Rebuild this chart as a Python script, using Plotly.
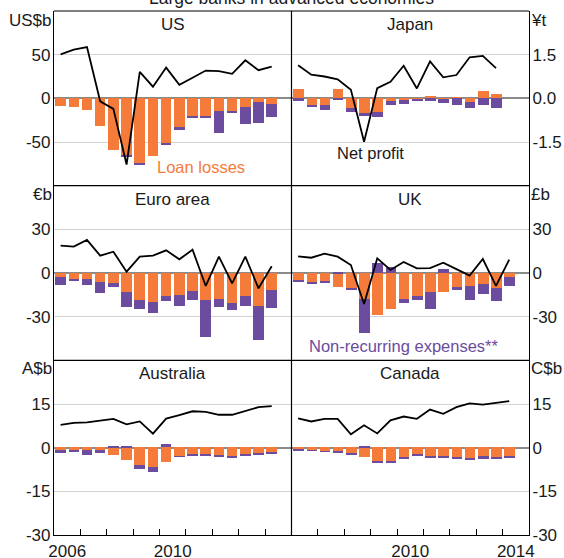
import plotly.graph_objects as go

# ---------------- data ----------------
periods = ["2006H1", "2006H2", "2007H1", "2007H2", "2008H1", "2008H2", "2009H1", "2009H2",
           "2010H1", "2010H2", "2011H1", "2011H2", "2012H1", "2012H2", "2013H1", "2013H2", "2014H1"]

us_loan = [-8.3, -9.5, -13.6, -31.8, -59.5, -65.5, -74.6, -65.9, -51.9, -33.3, -19.7, -19.7, -14.0, -14.8, -9.5, -3.8, -6.8]
us_nonrec = [0, 0, 0, 0, 0, -1.5, -1.1, 0, -1.1, -2.7, -2.7, -2.7, -25.4, -1.5, -20.4, -23.9, -14.8]
us_profit = [50.4, 55.7, 58.7, -3.4, -12.1, -75.8, 30.3, 13.3, 35.2, 15.5, 23.5, 31.8, 31.1, 28.0, 43.6, 32.2, 36.4]

jp_loan = [0.32, -0.22, -0.22, 0.33, -0.33, -0.50, -0.48, -0.08, -0.05, -0.05, 0.07, -0.02, 0.06, -0.14, 0.26, 0.16]
jp_nonrec = [-0.10, -0.07, -0.17, -0.07, -0.15, -0.09, -0.17, -0.16, -0.15, -0.05, -0.10, -0.15, -0.23, -0.19, -0.23, -0.33]
jp_profit = [1.14, 0.81, 0.75, 0.65, 0.29, -1.49, 0.35, 0.57, 1.12, 0.34, 1.27, 0.72, 0.80, 1.41, 1.46, 1.04]

ea_loan = [-2.7, -3.7, -3.9, -6.2, -6.9, -12.8, -18.5, -19.7, -15.3, -14.6, -11.9, -18.1, -17.4, -20.6, -15.3, -22.7, -11.7]
ea_nonrec = [-5.0, -1.6, -4.1, -7.1, -2.3, -10.5, -5.7, -7.8, -3.7, -7.8, -6.4, -25.6, -5.7, -4.3, -6.9, -23.3, -11.9]
ea_profit = [18.8, 18.1, 22.7, 11.9, 14.6, 0.9, 11.2, 11.9, 15.6, 9.4, 16.0, -8.9, 11.2, -7.1, 11.2, -10.5, 4.6]

uk_loan = [-4.6, -6.2, -5.7, -9.4, -9.8, -17.4, -28.4, -24.5, -17.8, -15.8, -13.0, -13.0, -9.6, -8.5, -7.3, -10.1, -2.7]
uk_nonrec = [-1.1, -0.7, -0.9, 0.7, -1.4, -23.6, 7.1, 4.6, -2.5, -2.5, -11.2, 3.2, -1.8, -10.1, -6.9, -8.7, -6.0]
uk_profit = [11.4, 10.5, 13.3, 11.2, 5.5, -21.3, 10.1, 2.1, 7.6, 3.2, 3.4, 7.1, 2.7, -1.8, 9.6, -8.9, 9.2]

au_loan = [-0.8, -0.9, -1.0, -1.0, -2.6, -4.5, -6.2, -6.8, -5.2, -3.0, -2.4, -2.4, -2.9, -3.2, -2.4, -2.2, -1.8]
au_nonrec = [-1.3, -0.8, -1.6, -1.0, 0.6, 0.3, -1.4, -1.7, 1.0, -0.3, -0.6, -0.3, -0.5, -0.5, -0.5, -0.3, -0.3]
au_profit = [7.8, 8.5, 8.7, 9.3, 9.9, 8.0, 9.0, 4.8, 10.0, 11.2, 12.5, 12.3, 11.3, 11.3, 12.5, 13.9, 14.3]

ca_loan = [-0.8, -1.1, -1.3, -1.5, -2.2, -3.4, -4.8, -5.0, -3.6, -2.6, -3.1, -3.2, -3.4, -3.8, -3.3, -3.4, -3.0]
ca_nonrec = [-0.5, -0.1, -0.3, -0.3, -0.3, 0.3, -0.5, -0.5, -0.5, -0.3, -0.3, -0.5, -0.5, -0.7, -0.6, -0.6, -0.5]
ca_profit = [10.1, 9.0, 9.9, 9.9, 4.6, 7.7, 4.9, 9.4, 10.7, 9.9, 13.1, 11.6, 13.9, 15.2, 14.8, 15.3, 16.0]

panel_names = ["US", "Japan", "Euro area", "UK", "Australia", "Canada"]
panel_units = ["US$b", "¥t", "€b", "£b", "A$b", "C$b"]
panel_ranges = [[-100, 100], [-3, 3], [-60, 60], [-60, 60], [-30, 30], [-30, 30]]
panel_tickvals = [[-50, 0, 50], [-1.5, 0, 1.5], [-30, 0, 30], [-30, 0, 30],
                  [-30, -15, 0, 15], [-30, -15, 0, 15]]
panel_ticktext = [["-50", "0", "50"], ["-1.5", "0.0", "1.5"], ["-30", "0", "30"], ["-30", "0", "30"],
                  ["-30", "-15", "0", "15"], ["-30", "-15", "0", "15"]]
year_labels_left = ["2006", "2010"]
year_labels_right = ["2010", "2014"]

series = [
    (us_loan, us_nonrec, us_profit),
    (jp_loan, jp_nonrec, jp_profit),
    (ea_loan, ea_nonrec, ea_profit),
    (uk_loan, uk_nonrec, uk_profit),
    (au_loan, au_nonrec, au_profit),
    (ca_loan, ca_nonrec, ca_profit),
]

# ---------------- styling ----------------
ORANGE = "#F47B3A"
PURPLE = "#6B4C9E"
FONT = "Liberation Sans, Arial, sans-serif"
TXT = "#1a1a1a"


def period_to_x(p):
    return int(p[:4]) + (0.25 if p.endswith("H1") else 0.75)


fig = go.Figure()
layout = {}

for i, (loan, nonrec, profit) in enumerate(series):
    r, c = divmod(i, 2)
    n = len(loan)
    xs = [period_to_x(p) for p in periods[:n]]
    xa = "x" if i == 0 else f"x{i+1}"
    ya = "y" if i == 0 else f"y{i+1}"
    fig.add_trace(go.Bar(x=xs, y=loan, xaxis=xa, yaxis=ya, marker_color=ORANGE,
                         marker_line_width=0, width=0.4, showlegend=False))
    fig.add_trace(go.Bar(x=xs, y=nonrec, xaxis=xa, yaxis=ya, marker_color=PURPLE,
                         marker_line_width=0, width=0.4, showlegend=False))
    fig.add_trace(go.Scatter(x=xs, y=profit, xaxis=xa, yaxis=ya, mode="lines",
                             line=dict(color="black", width=1.8), showlegend=False))

    ydom = [[2/3, 1.0], [1/3, 2/3], [0.0, 1/3]][r]
    xdom = [[0.0, 0.5], [0.5, 1.0]][c]
    xkey = "xaxis" if i == 0 else f"xaxis{i+1}"
    ykey = "yaxis" if i == 0 else f"yaxis{i+1}"

    xcfg = dict(domain=xdom, anchor=ya, range=[2006, 2015], showgrid=False,
                zeroline=False, fixedrange=True, automargin=False)
    if r == 2:
        labs = year_labels_left if c == 0 else year_labels_right
        xcfg.update(tickmode="array", tickvals=[int(l) + 0.5 for l in labs], ticktext=labs,
                    ticks="", showticklabels=True, showline=True, linecolor="black", linewidth=1.2,
                    tickfont=dict(family=FONT, size=17, color=TXT),
                    minor=dict(tickmode="array", tickvals=list(range(2007, 2015)),
                               ticks="inside", ticklen=6, tickcolor="black", tickwidth=1.2,
                               showgrid=False))
    else:
        xcfg.update(showticklabels=False, ticks="", showline=False)
    layout[xkey] = xcfg

    ycfg = dict(domain=ydom, anchor=xa, range=panel_ranges[i], tickmode="array",
                tickvals=panel_tickvals[i], ticktext=panel_ticktext[i],
                showgrid=True, gridcolor="#d2d2d2", gridwidth=1.2,
                zeroline=True, zerolinecolor="#8a8a8a", zerolinewidth=2,
                showline=True, linecolor="black", linewidth=1.2, ticks="",
                ticklabelstandoff=-1, automargin=False,
                side="left" if c == 0 else "right",
                tickfont=dict(family=FONT, size=17, color=TXT), fixedrange=True)
    layout[ykey] = ycfg

annotations = []
# panel titles
title_y = [0.9739, 0.6412, 0.3073]
unit_y = [0.9828, 0.6489, 0.3168]
for i, name in enumerate(panel_names):
    r, c = divmod(i, 2)
    annotations.append(dict(text=name, xref="paper", yref="paper", x=0.25 + 0.5 * c, y=title_y[r],
                            xanchor="center", yanchor="middle", showarrow=False,
                            font=dict(family=FONT, size=17, color=TXT)))
    annotations.append(dict(text=panel_units[i], xref="paper", yref="paper",
                            x=0.0 if c == 0 else 1.0, y=unit_y[r],
                            xanchor="right" if c == 0 else "left", yanchor="middle", showarrow=False,
                            font=dict(family=FONT, size=17, color=TXT)))

annotations.append(dict(text="Large banks in advanced economies", xref="paper", yref="paper",
                        x=0.5, y=1.025, xanchor="center", yanchor="middle", showarrow=False,
                        font=dict(family=FONT, size=17.5, color=TXT)))
annotations.append(dict(text="Loan losses", xref="x", yref="y", x=2011.58, y=-78.4,
                        xanchor="center", yanchor="middle", showarrow=False,
                        font=dict(family=FONT, size=16.5, color=ORANGE)))
annotations.append(dict(text="Net profit", xref="x2", yref="y2", x=2009.0, y=-1.88,
                        xanchor="center", yanchor="middle", showarrow=False,
                        font=dict(family=FONT, size=16.5, color=TXT)))
annotations.append(dict(text="Non-recurring expenses**", xref="x4", yref="y4", x=2010.26, y=-49.9,
                        xanchor="center", yanchor="middle", showarrow=False,
                        font=dict(family=FONT, size=16.5, color=PURPLE)))

# frame lines: top border, row separators, middle divider
shapes = []
for yy in [1.0, 2/3, 1/3]:
    shapes.append(dict(type="line", xref="paper", yref="paper", x0=0, x1=1, y0=yy, y1=yy,
                       line=dict(color="black", width=1.2), layer="above"))
shapes.append(dict(type="line", xref="paper", yref="paper", x0=0.5, x1=0.5, y0=0, y1=1,
                   line=dict(color="black", width=1.2), layer="above"))

fig.update_layout(
    template="none",
    width=564, height=558,
    margin=dict(l=54, r=35, t=11, b=23, pad=0, autoexpand=False),
    paper_bgcolor="white", plot_bgcolor="white",
    barmode="relative", bargap=0,
    annotations=annotations, shapes=shapes,
    font=dict(family=FONT, size=17, color=TXT),
    showlegend=False,
    **layout,
)

fig.write_html("out.html", config={"displayModeBar": False},
               post_script="document.body.style.margin='0';document.body.style.padding='0';"
                           "document.body.style.overflow='hidden';")
